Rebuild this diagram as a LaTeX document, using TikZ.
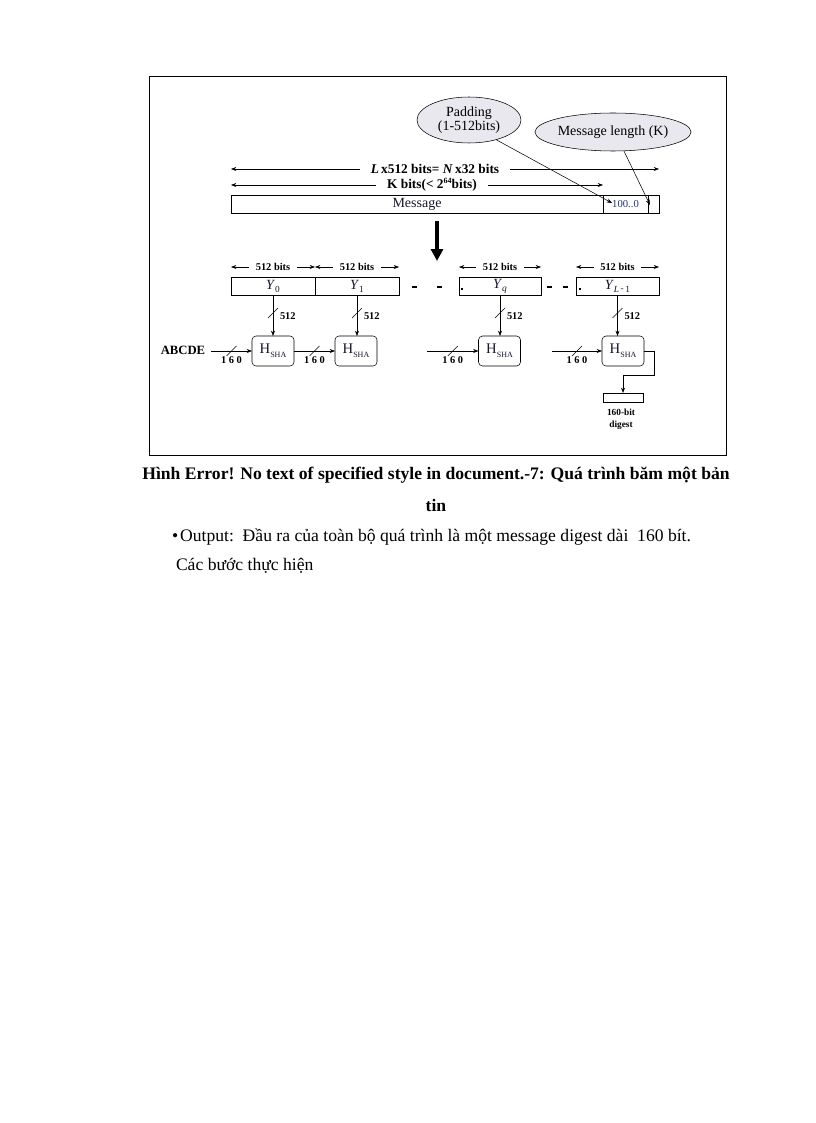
\documentclass[tikz,border=0pt]{standalone}
\usepackage{fontspec}
\setmainfont{Liberation Serif}
\usetikzlibrary{arrows.meta,shapes.geometric,calc}
\definecolor{ellfill}{RGB}{232,232,238}
\definecolor{ink}{RGB}{22,22,50}
\definecolor{padcol}{RGB}{30,50,120}
\newcommand\hsha{{\fontsize{11}{11}\selectfont H\raisebox{-3pt}{\fontsize{6}{6}\selectfont SHA}}}
\newcommand\ylab[1]{{\fontsize{10.5}{11}\selectfont\textit{Y}\raisebox{-2.2pt}{\fontsize{7}{7}\selectfont #1}}}
\begin{document}
\begin{tikzpicture}[x=0.75pt,y=-0.75pt,
  >={Stealth[length=4pt,width=3pt]},
  every node/.style={inner sep=0pt, outer sep=0pt},
  seg/.style={draw, minimum height=13.5pt, inner sep=0pt, text=ink},
  ell/.style={ellipse, draw, fill=ellfill, align=center, font=\fontsize{10.5}{10.5}\selectfont},
  hbox/.style={draw, rounded corners=3pt, minimum width=31.5pt, minimum height=22.5pt, text=ink},
  dimlbl/.style={font=\bfseries\fontsize{10}{12}\selectfont, inner xsep=8pt},
  tinyb/.style={font=\bfseries\fontsize{7.8}{9}\selectfont},
  bitlbl/.style={font=\bfseries\fontsize{7.8}{9}\selectfont, inner xsep=5pt},
  slash/.style={draw, line width=0.4pt},
  dashmark/.style={line width=1.6pt},
]
\path[use as bounding box, fill=white] (0,0) rectangle (816,1123);
% frame
\draw[line width=0.6pt] (149,76) rectangle (726,455);

% ellipses
\node[ell, minimum width=78pt, minimum height=34.5pt] (padE) at (469,120) {Padding\\(1-512bits)};
\node[ell, minimum width=93pt, minimum height=28.5pt] (lenE) at (613,132) {Message length (K)};

% message row
\node[seg, minimum width=279pt, font=\fontsize{10.5}{12}\selectfont] (msg) at (417,204) {Message};
\node[seg, minimum width=33.75pt, font=\fontsize{8}{9}\selectfont, text=padcol] (pad) at (625.5,204) {100..0};
\node[seg, minimum width=8.25pt] (len) at (653.5,204) {};
\coordinate (padtip) at (612,203);
\coordinate (lentip) at (650,205);
\draw[->] (padE.-36) -- (padtip);
\draw[->] (lenE.-60) -- (lentip);

% dimension lines
\node[dimlbl] (Ltxt) at (435,169) {\textit{L}\,x512 bits= \textit{N}\,x32 bits};
\coordinate (Lleft) at (231,169);
\coordinate (Lright) at (659,169);
\draw[->] (Ltxt.west) -- (Lleft);
\draw[->] (Ltxt.east) -- (Lright);
\node[dimlbl] (Ktxt) at (432,185) {K bits(< 2\raisebox{3.5pt}{\fontsize{6}{6}\selectfont 64}bits)};
\coordinate (Kleft) at (231,185);
\coordinate (Kright) at (603,185);
\draw[->] (Ktxt.west) -- (Kleft);
\draw[->] (Ktxt.east) -- (Kright);

% big arrow
\coordinate (bigA) at (437,221);
\coordinate (bigB) at (437,261);
\draw[line width=3.5pt, -{Triangle[length=9pt,width=9pt]}] (bigA) -- (bigB);

% block row
\node[seg, minimum width=63pt] (Y0) at (273,286) {\ylab{0}};
\node[seg, minimum width=63pt] (Y1) at (357,286) {\ylab{1}};
\node[seg, minimum width=61.5pt] (Yq) at (500,286) {\ylab{\textit{q}}};
\node[seg, minimum width=62.25pt] (YL) at (617.5,286) {\ylab{\textit{L}\,\raisebox{0.3pt}{-}\,1}};
\fill (461,288) rectangle (463,290);
\fill (579,288) rectangle (581,290);
\draw[dashmark] (412,287) -- (417,287);
\draw[dashmark] (437,287) -- (442,287);
\draw[dashmark] (547,287) -- (552,287);
\draw[dashmark] (563,287) -- (568,287);

% 512 bits labels
\foreach \y/\n in {Y0/b0,Y1/b1,Yq/bq,YL/bL}{
  \node[bitlbl] (\n) at ($(\y.north)+(0,-10)$) {512 bits};
  \draw[->] (\n.west) -- (\n.west -| \y.west);
  \draw[->] (\n.east) -- (\n.east -| \y.east);
}

% H boxes
\node[hbox] (H1) at (273,351) {\hsha};
\node[hbox] (H2) at (356,351) {\hsha};
\node[hbox] (H3) at (499.5,351) {\hsha};
\node[hbox] (H4) at (623,351) {\hsha};

% vertical 512 arrows
\foreach \y/\h/\n in {Y0/H1/v0,Y1/H2/v1,Yq/H3/vq,YL/H4/vL}{
  \draw[->] (\y.south) -- (\y.south |- \h.north);
  \draw[slash] ($(\y.south)+(-5,23)$) -- ++(10,-10);
  \node[tinyb, anchor=west] (\n) at ($(\y.south)+(7,21)$) {512};
}

% chaining inputs
\node[font=\bfseries\fontsize{9.5}{11}\selectfont] (abc) at (183,350) {ABCDE};
\coordinate (in1) at (211,351);
\coordinate (in3) at (427,351);
\coordinate (in4) at (552,351);
\draw[->] (in1) -- (H1.west);
\draw[->] (H1.east) -- (H2.west);
\draw[->] (in3) -- (H3.west);
\draw[->] (in4) -- (H4.west);
\foreach \a/\b/\n in {in1/H1.west/c1,H1.east/H2.west/c2,in3/H3.west/c3,in4/H4.west/c4}{
  \coordinate (m\n) at ($(\a)!0.5!(\b)$);
  \draw[slash] ($(m\n)+(-5,5)$) -- ++(10,-10);
  \node[tinyb] (\n) at ($(m\n)+(0,9)$) {1 6 0};
}

% output
\node[draw, minimum width=30pt, minimum height=6.75pt] (digest) at (623,397.5) {};
\coordinate (oc1) at (654,375);
\coordinate (oc2) at (623,375);
\draw[->] (H4.east) -| (oc1) -- (oc2) -- (digest.north);
\node[font=\bfseries\fontsize{7}{9}\selectfont, align=center] (dlab) at (621,419) {160-bit\\digest};

% caption and text
\node[font=\bfseries\fontsize{13.2}{15}\selectfont] (cap1) at (436,475) {Hình Error! No text of specified style in document.-7: Quá trình băm một bản};
\node[font=\bfseries\fontsize{13.2}{15}\selectfont] (cap2) at (436,505) {tin};
\node[anchor=west, font=\fontsize{13.2}{15}\selectfont] (bul) at (172,537) {•\hspace{1.5pt}Output:\ \ Đầu ra của toàn bộ quá trình là một message digest dài\ \ 160 bít.};
\node[anchor=west, font=\fontsize{13.2}{15}\selectfont] (steps) at (176,566) {Các bước thực hiện};
\end{tikzpicture}
\end{document}
